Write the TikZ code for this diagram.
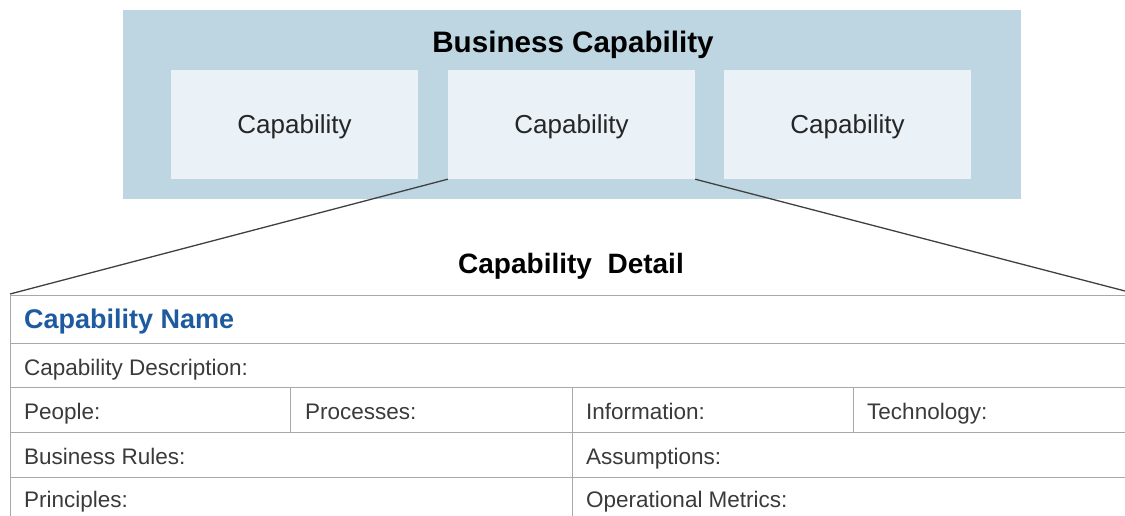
\documentclass[tikz,border=0pt]{standalone}
\usepackage{fontspec}
\setmainfont{Liberation Sans}
\usetikzlibrary{positioning}
\definecolor{bizblue}{HTML}{BDD6E2}
\definecolor{capfill}{HTML}{EAF2F8}
\definecolor{nameblue}{HTML}{1E5AA0}
\definecolor{gridgray}{HTML}{A8A8A8}
\definecolor{txtgray}{HTML}{3A3A3A}

\begin{document}
\begin{tikzpicture}[x=1pt,y=-1pt,
    zoomline/.style={draw=black!75, line width=1.3pt},
    gridline/.style={draw=gridgray, line width=0.9pt},
    cell/.style={anchor=base west, inner sep=0pt, text=txtgray, font=\fontsize{22.5}{26}\selectfont}]
    \useasboundingbox (0,0) rectangle (1125,516);

    % outer panel and its title
    \node[fill=bizblue, minimum width=898pt, minimum height=189pt, inner sep=0pt, anchor=north west] (biz) at (123,10) {};
    \node[font=\bfseries\fontsize{29.6}{32}\selectfont, anchor=base] (biztitle) at (573,53) {Business Capability};

    % the three capabilities
    \begin{scope}[every node/.style={fill=capfill, minimum width=247pt, minimum height=109pt, inner sep=0pt, text depth=0pt, text=black!85, font=\fontsize{26}{30}\selectfont}]
    \node (capA) at (294.5,124.5) {Capability};
    \node (capB) at (571.5,124.5) {Capability};
    \node (capC) at (847.5,124.5) {Capability};
    \end{scope}

    % detail table corners
    \coordinate (tabL) at (10,294);
    \coordinate (tabR) at (1125,291);

    % zoom lines from the middle capability
    \draw[zoomline] (capB.south west) -- (tabL);
    \draw[zoomline] (capB.south east) -- (tabR);

    \node[font=\bfseries\fontsize{28}{32}\selectfont, anchor=base] (detail) at (571,273) {Capability\ \ Detail};

    % table grid
    \foreach \y in {295,343,387,432,477}
        \draw[gridline] (10,\y) -- (1125,\y);
    \draw[gridline] (10,295) -- (10,516);
    \draw[gridline] (290,387) -- (290,432);
    \draw[gridline] (853,387) -- (853,432);
    \draw[gridline] (572,387) -- (572,516);

    % table texts
    \node[cell, text=nameblue, font=\bfseries\fontsize{27}{30}\selectfont] (capname) at (24,328) {Capability Name};
    \node[cell] (descr) at (24,375) {Capability Description:};
    \node[cell] (people) at (24,419) {People:};
    \node[cell] (process) at (305,419) {Processes:};
    \node[cell] (info) at (586,419) {Information:};
    \node[cell] (tech) at (867,419) {Technology:};
    \node[cell] (rules) at (24,464) {Business Rules:};
    \node[cell] (assume) at (586,464) {Assumptions:};
    \node[cell] (princ) at (24,507) {Principles:};
    \node[cell] (metrics) at (586,507) {Operational Metrics:};

\end{tikzpicture}
\end{document}
